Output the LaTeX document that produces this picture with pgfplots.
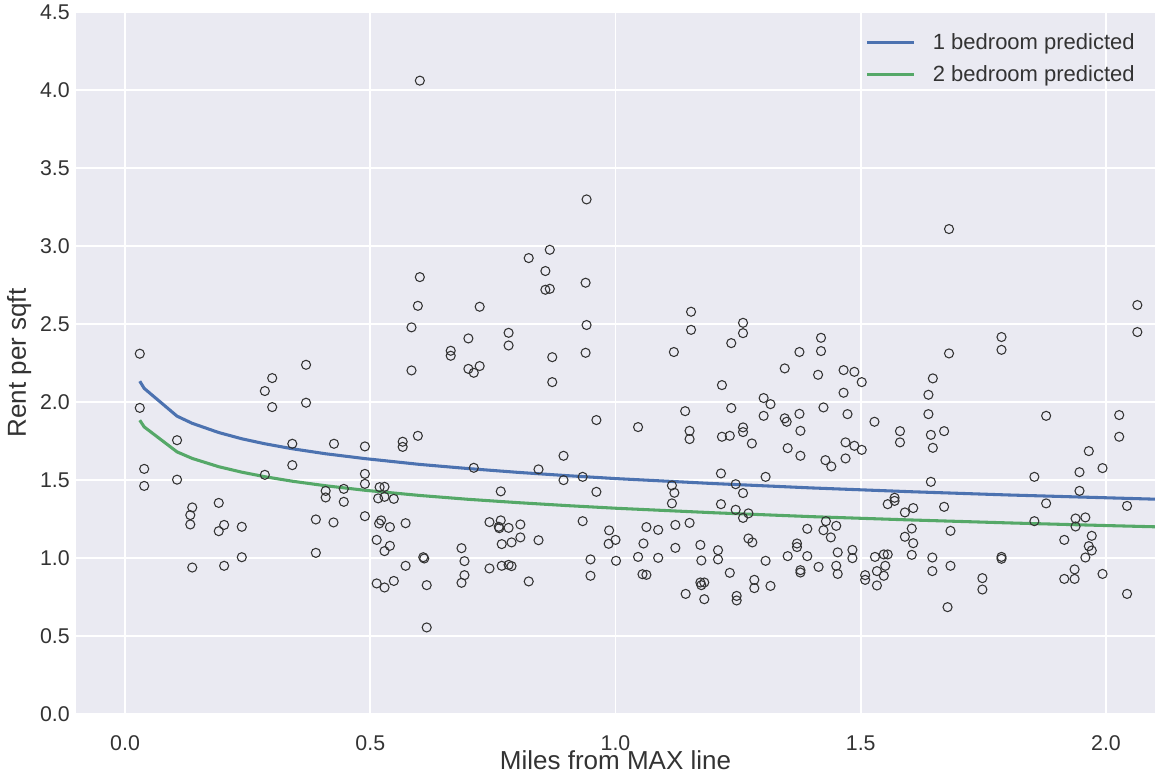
\documentclass[border=0pt]{standalone}
\usepackage{fontspec}
\setmainfont{Liberation Sans}
\usepackage{pgfplots}
\pgfplotsset{compat=1.18}
\definecolor{sbback}{HTML}{EAEAF2}
\definecolor{sbblue}{HTML}{4C72B0}
\definecolor{sbgreen}{HTML}{55A868}
\definecolor{sbtext}{HTML}{333333}

\begin{document}
\begin{tikzpicture}
\useasboundingbox (-57pt,-44.25pt) rectangle (809pt,535.5pt);
\begin{axis}[
    at={(0,0)}, anchor=south west,
    scale only axis,
    width=809pt, height=526.5pt,
    xmin=-0.1, xmax=2.1,
    ymin=0, ymax=4.5,
    xtick={0,0.5,...,2.0},
    ytick={0,0.5,...,4.5},
    /pgf/number format/assume math mode=true,
    xticklabel={\pgfmathprintnumber[fixed,fixed zerofill,precision=1]{\tick}},
    yticklabel={\pgfmathprintnumber[fixed,fixed zerofill,precision=1]{\tick}},
    major tick length=0pt,
    axis background/.style={fill=sbback},
    axis line style={draw=none},
    grid=major,
    major grid style={draw=white, line width=1.3pt},
    ticklabel style={font=\fontsize{16}{18}\selectfont, text=sbtext},
    xticklabel style={anchor=base, yshift=-27pt, inner sep=0pt},
    yticklabel style={anchor=east, xshift=-4.5pt, inner sep=0pt},
    xlabel={Miles from MAX line},
    ylabel={Rent per sqft},
    every axis x label/.style={at={(axis description cs:0.5,0)}, anchor=base,
        yshift=-41.5pt, inner sep=0pt, font=\fontsize{19.5}{22}\selectfont, text=sbtext},
    every axis y label/.style={at={(axis description cs:-0.0528,0.5)}, anchor=center,
        rotate=90, inner sep=0pt, font=\fontsize{19.5}{22}\selectfont, text=sbtext},
    legend style={at={(axis description cs:1,1)}, anchor=north east,
        xshift=-10pt, yshift=-12pt, draw=none, fill=none,
        font=\fontsize{16.5}{19}\selectfont, text=sbtext,
        row sep=6.5pt, nodes={inner sep=2pt}},
    legend cell align=left,
    legend image code/.code={\draw[#1] (0pt,0pt) -- (35pt,0pt); \path (46pt,0pt);},
]
\addplot[only marks, mark=o, mark size=3.4pt,
    mark options={draw=black!80, line width=0.8pt, fill=none}, forget plot] coordinates {
(0.030,2.310) (0.030,1.963) (0.039,1.572) (0.039,1.463) (0.106,1.756) (0.106,1.503)
(0.137,1.325) (0.133,1.276) (0.133,1.216) (0.137,0.940) (0.191,1.354) (0.202,1.213)
(0.191,1.173) (0.238,1.201) (0.202,0.951) (0.238,1.006) (0.285,1.534) (0.300,2.154)
(0.285,2.071) (0.300,1.968) (0.369,2.239) (0.369,1.996) (0.341,1.733) (0.426,1.733)
(0.489,1.716) (0.341,1.596) (0.489,1.540) (0.489,1.476) (0.489,1.269) (0.389,1.248)
(0.425,1.229) (0.389,1.034) (0.409,1.431) (0.409,1.389) (0.446,1.444) (0.446,1.361)
(0.601,4.060) (0.941,3.299) (0.866,2.976) (0.823,2.923) (0.857,2.840) (0.857,2.720)
(0.866,2.726) (0.939,2.765) (0.601,2.801) (0.597,2.617) (0.723,2.611) (0.584,2.479)
(0.700,2.408) (0.782,2.444) (0.782,2.363) (0.664,2.329) (0.664,2.297) (0.941,2.494)
(0.939,2.316) (0.871,2.288) (0.871,2.128) (0.584,2.203) (0.700,2.213) (0.711,2.188)
(0.723,2.231) (0.961,1.885) (0.894,1.656) (0.566,1.746) (0.566,1.713) (0.597,1.784)
(0.711,1.579) (0.843,1.569) (0.894,1.500) (0.933,1.521) (0.961,1.425) (0.766,1.428)
(0.519,1.455) (0.529,1.457) (0.516,1.383) (0.529,1.393) (0.548,1.380) (0.518,1.222)
(0.522,1.242) (0.540,1.199) (0.572,1.224) (0.513,1.117) (0.540,1.079) (0.529,1.045)
(0.572,0.951) (0.608,1.006) (0.610,0.998) (0.513,0.838) (0.529,0.812) (0.548,0.854)
(0.615,0.827) (0.615,0.556) (0.686,1.064) (0.692,0.981) (0.692,0.891) (0.686,0.842)
(0.743,1.231) (0.766,1.242) (0.762,1.201) (0.763,1.192) (0.782,1.194) (0.806,1.216)
(0.806,1.133) (0.788,1.101) (0.768,1.090) (0.843,1.115) (0.743,0.934) (0.768,0.951)
(0.782,0.957) (0.788,0.949) (0.823,0.851) (0.933,1.237) (0.987,1.178) (1.000,1.117)
(0.986,1.092) (0.949,0.992) (1.001,0.983) (0.949,0.887)
(1.154,2.579) (1.154,2.463) (1.260,2.508) (1.260,2.442) (1.236,2.378) (1.119,2.321)
(1.375,2.321) (1.419,2.412) (1.419,2.327) (1.345,2.216) (1.413,2.175) (1.465,2.205)
(1.487,2.194) (1.502,2.128) (1.465,2.060) (1.217,2.109) (1.302,2.026) (1.316,1.987)
(1.142,1.942) (1.236,1.962) (1.302,1.912) (1.345,1.896) (1.349,1.874) (1.375,1.925)
(1.424,1.966) (1.473,1.923) (1.528,1.874) (1.046,1.840) (1.151,1.816) (1.151,1.763)
(1.260,1.838) (1.260,1.808) (1.217,1.778) (1.233,1.784) (1.278,1.735) (1.377,1.816)
(1.351,1.705) (1.377,1.656) (1.469,1.742) (1.487,1.720) (1.502,1.694) (1.428,1.628)
(1.469,1.639) (1.440,1.588) (1.215,1.543) (1.306,1.521) (1.115,1.466) (1.120,1.419)
(1.115,1.351) (1.245,1.474) (1.260,1.417) (1.215,1.346) (1.245,1.310) (1.271,1.287)
(1.260,1.258) (1.555,1.346) (1.063,1.199) (1.087,1.181) (1.122,1.213) (1.151,1.226)
(1.057,1.094) (1.046,1.008) (1.087,1.002) (1.122,1.066) (1.173,1.085) (1.175,0.985)
(1.209,1.051) (1.209,0.992) (1.271,1.126) (1.279,1.101) (1.306,0.983) (1.055,0.897)
(1.063,0.893) (1.143,0.771) (1.173,0.844) (1.175,0.827) (1.181,0.844) (1.181,0.737)
(1.233,0.906) (1.247,0.758) (1.247,0.729) (1.283,0.861) (1.283,0.808) (1.316,0.822)
(1.351,1.013) (1.370,1.094) (1.370,1.071) (1.391,1.188) (1.391,1.013) (1.377,0.923)
(1.377,0.908) (1.414,0.944) (1.424,1.179) (1.429,1.237) (1.450,1.207) (1.439,1.133)
(1.453,1.037) (1.450,0.951) (1.453,0.899) (1.483,1.053) (1.483,1.000) (1.529,1.008)
(1.547,1.024) (1.555,1.024) (1.509,0.891) (1.509,0.861) (1.533,0.917) (1.550,0.951)
(1.547,0.887) (1.533,0.825)
(1.680,3.109) (2.064,2.622) (2.064,2.449) (1.787,2.417) (1.787,2.335) (1.680,2.312)
(1.647,2.152) (1.638,2.047) (1.638,1.923) (1.878,1.912) (2.027,1.917) (1.580,1.814)
(1.580,1.742) (1.643,1.790) (1.670,1.814) (1.647,1.707) (1.965,1.686) (2.027,1.778)
(1.993,1.577) (1.946,1.551) (1.946,1.431) (1.854,1.521) (1.878,1.351) (1.643,1.489)
(1.569,1.367) (1.569,1.387) (1.590,1.293) (1.607,1.321) (1.670,1.329) (2.043,1.335)
(1.854,1.237) (1.938,1.254) (1.958,1.261) (1.938,1.203) (1.604,1.190) (1.683,1.175)
(1.590,1.137) (1.607,1.096) (1.604,1.021) (1.646,1.004) (1.646,0.917) (1.683,0.951)
(1.677,0.686) (1.748,0.872) (1.748,0.799) (1.787,1.008) (1.787,0.996) (1.915,1.117)
(1.971,1.143) (1.965,1.077) (1.971,1.049) (1.958,1.004) (1.936,0.928) (1.915,0.867)
(1.936,0.867) (1.993,0.899) (2.043,0.771)
};
\addplot[sbblue, line width=2.3pt] coordinates {
(0.030,2.134) (0.039,2.088) (0.106,1.910) (0.137,1.864) (0.191,1.805) (0.238,1.765)
(0.285,1.733) (0.341,1.701) (0.409,1.669) (0.489,1.638) (0.6,1.601) (0.7,1.574)
(0.8,1.550) (0.9,1.529) (1.0,1.510) (1.2,1.478) (1.4,1.450) (1.6,1.426) (1.8,1.405)
(2.0,1.387) (2.1,1.378)
};
\addlegendentry{1 bedroom predicted}
\addplot[sbgreen, line width=2.3pt] coordinates {
(0.030,1.884) (0.039,1.841) (0.106,1.681) (0.137,1.639) (0.191,1.586) (0.238,1.551)
(0.285,1.522) (0.341,1.493) (0.409,1.464) (0.489,1.435) (0.6,1.402) (0.7,1.377)
(0.8,1.356) (0.9,1.337) (1.0,1.320) (1.2,1.291) (1.4,1.266) (1.6,1.245) (1.8,1.226)
(2.0,1.209) (2.1,1.201)
};
\addlegendentry{2 bedroom predicted}
\end{axis}
\end{tikzpicture}
\end{document}
